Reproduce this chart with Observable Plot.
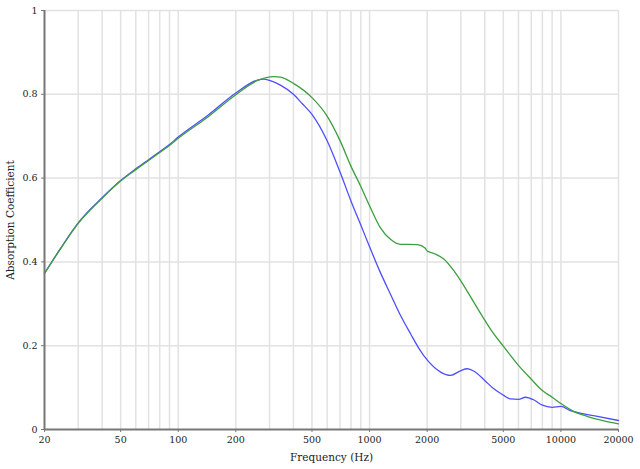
<!DOCTYPE html>
<html>
<head>
<meta charset="utf-8">
<script src="https://cdn.jsdelivr.net/npm/d3@7"></script>
<script src="https://cdn.jsdelivr.net/npm/@observablehq/plot@0.6"></script>
<style>
  html, body { margin: 0; padding: 0; background: #fff; }
</style>
</head>
<body>
<div id="chart"></div>
<script>
const xTicks = [20, 50, 100, 200, 500, 1000, 2000, 5000, 10000, 20000];
const xGrid = [30, 40, 50, 60, 70, 80, 90, 100, 200, 300, 400, 500, 600, 700, 800, 900,
  1000, 2000, 3000, 4000, 5000, 6000, 7000, 8000, 9000, 10000, 20000];
const yTicks = [0, 0.2, 0.4, 0.6, 0.8, 1];

const blueFreq = [20, 24.4, 30, 40, 50, 60, 70, 80, 90, 100, 143, 200, 260, 280, 300, 342, 400, 444, 500, 600, 700, 800, 900, 1000,
  1138, 1286, 1452, 1640, 1820, 2000, 2352, 2650, 2985, 3240, 3516, 4000, 4460, 5000, 5430, 6000, 6520, 7200, 8000, 9000,
  10000, 11200, 12600, 14800, 20000];
const blueAbs = [0.3725, 0.434, 0.493, 0.553, 0.594, 0.622, 0.644, 0.663, 0.680, 0.698, 0.750, 0.803, 0.834, 0.836, 0.833, 0.822, 0.800, 0.778, 0.752, 0.689, 0.615, 0.545, 0.488, 0.436,
  0.375, 0.323, 0.272, 0.228, 0.192, 0.166, 0.137, 0.129, 0.140, 0.145, 0.139, 0.117, 0.097, 0.082, 0.073, 0.072, 0.077, 0.071, 0.058, 0.053,
  0.055, 0.045, 0.039, 0.033, 0.0215];

const greenFreq = [20, 24.4, 30, 40, 50, 60, 70, 80, 90, 100, 143, 200, 260, 316, 342, 400, 500, 600, 700, 800, 900, 1000,
  1138, 1286, 1452, 1600, 1774, 1950, 2000, 2170, 2442, 2756, 2985, 3516, 4000, 4460, 5000, 6000, 7000, 8000, 9000,
  10000, 11800, 13800, 16600, 20000];
const greenAbs = [0.3725, 0.433, 0.492, 0.552, 0.593, 0.620, 0.642, 0.661, 0.678, 0.695, 0.746, 0.799, 0.833, 0.842, 0.841, 0.826, 0.792, 0.748, 0.690, 0.628, 0.580, 0.534,
  0.482, 0.454, 0.442, 0.442, 0.441, 0.433, 0.426, 0.420, 0.407, 0.379, 0.356, 0.303, 0.261, 0.228, 0.199, 0.153, 0.120, 0.093, 0.077,
  0.062, 0.042, 0.031, 0.021, 0.0135];

const blueData = blueFreq.map((f, i) => ({f, v: blueAbs[i]}));
const greenData = greenFreq.map((f, i) => ({f, v: greenAbs[i]}));

const chart = Plot.plot({
  width: 640,
  height: 469,
  marginLeft: 44,
  marginRight: 22,
  marginTop: 10,
  marginBottom: 40,
  x: {type: "log", domain: [20, 20000]},
  y: {domain: [0, 1]},
  style: {fontFamily: "'DejaVu Serif', serif", fontSize: "10px", background: "#fff", color: "#222"},
  marks: [
    Plot.ruleX(xGrid, {stroke: "#e2e2e2", strokeWidth: 1.5}),
    Plot.ruleY(yTicks.filter(d => d > 0), {stroke: "#e2e2e2", strokeWidth: 1.5}),
    Plot.line(blueData, {x: "f", y: "v", stroke: "#4f4fff", strokeWidth: 1.3, curve: "monotone-x"}),
    Plot.line(greenData, {x: "f", y: "v", stroke: "#3d9e3d", strokeWidth: 1.3, curve: "monotone-x"}),
    Plot.ruleX([20], {stroke: "#777", strokeWidth: 2}),
    Plot.ruleY([0], {stroke: "#777", strokeWidth: 2}),
    Plot.axisX(xTicks, {tickFormat: () => "", tickSize: 3, tickPadding: 4, label: null, stroke: "#777"}),
    Plot.text(xTicks, {x: d => d, text: d => String(d), frameAnchor: "bottom", lineAnchor: "top", dy: 7, fontSize: 9.5}),
    Plot.axisY(yTicks, {tickFormat: d => String(d), tickSize: 3, tickPadding: 4, label: null, stroke: "#777", fontSize: 9.5}),
    Plot.text(["Frequency (Hz)"], {frameAnchor: "bottom", lineAnchor: "middle", textAnchor: "middle", dy: 28, fontSize: 10.5}),
    Plot.text(["Absorption Coefficient"], {frameAnchor: "left", textAnchor: "middle", lineAnchor: "middle", rotate: -90, dx: -34, fontSize: 10.5})
  ]
});
document.getElementById("chart").appendChild(chart);
</script>
</body>
</html>
